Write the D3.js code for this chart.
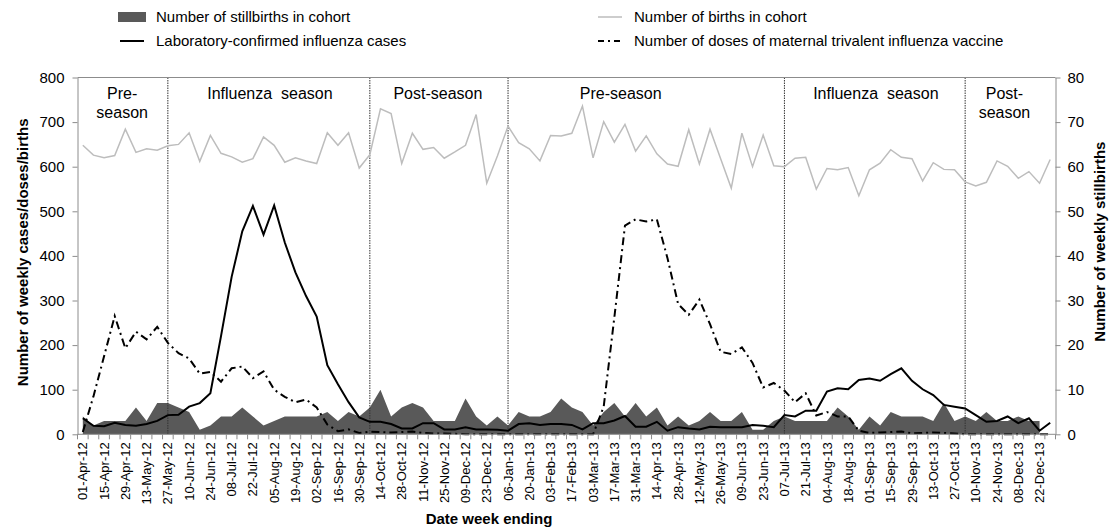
<!DOCTYPE html>
<html>
<head>
<meta charset="utf-8">
<script src="https://cdn.jsdelivr.net/npm/d3@7"></script>
<style>
  body { margin: 0; background: #fff; }
  svg { font-family: "Liberation Sans", Arial, sans-serif; }
  .axis path, .axis line { stroke: #8c8c8c; }
  .axis text { fill: #000; }
</style>
</head>
<body>
<div id="chart"></div>
<script>
// Week-ending dates (categories).
var weeks = [
  '01-Apr-12','08-Apr-12','15-Apr-12','22-Apr-12','29-Apr-12','06-May-12','13-May-12','20-May-12','27-May-12',
  '03-Jun-12','10-Jun-12','17-Jun-12','24-Jun-12','01-Jul-12','08-Jul-12','15-Jul-12','22-Jul-12','29-Jul-12',
  '05-Aug-12','12-Aug-12','19-Aug-12','26-Aug-12','02-Sep-12','09-Sep-12','16-Sep-12','23-Sep-12','30-Sep-12',
  '07-Oct-12','14-Oct-12','21-Oct-12','28-Oct-12','04-Nov-12','11-Nov-12','18-Nov-12','25-Nov-12',
  '02-Dec-12','09-Dec-12','16-Dec-12','23-Dec-12','30-Dec-12',
  '06-Jan-13','13-Jan-13','20-Jan-13','27-Jan-13','03-Feb-13','10-Feb-13','17-Feb-13','24-Feb-13',
  '03-Mar-13','10-Mar-13','17-Mar-13','24-Mar-13','31-Mar-13','07-Apr-13','14-Apr-13','21-Apr-13','28-Apr-13',
  '05-May-13','12-May-13','19-May-13','26-May-13','02-Jun-13','09-Jun-13','16-Jun-13','23-Jun-13','30-Jun-13',
  '07-Jul-13','14-Jul-13','21-Jul-13','28-Jul-13','04-Aug-13','11-Aug-13','18-Aug-13','25-Aug-13',
  '01-Sep-13','08-Sep-13','15-Sep-13','22-Sep-13','29-Sep-13','06-Oct-13','13-Oct-13','20-Oct-13','27-Oct-13',
  '03-Nov-13','10-Nov-13','17-Nov-13','24-Nov-13','01-Dec-13','08-Dec-13','15-Dec-13','22-Dec-13','29-Dec-13'
];

// Number of births in cohort (left axis).
var births = [
  648, 626, 620, 625, 684, 632, 640, 637, 647, 650, 676, 612, 670, 630, 622, 610, 618, 667, 648, 610,
  620, 613, 607, 676, 648, 676, 597, 627, 730, 719, 607, 675, 639, 643, 619, 633, 648, 717, 563, 624,
  691, 654, 640, 613, 670, 669, 675, 736, 620, 701, 655, 695, 635, 669, 629, 606, 601, 683, 606, 684,
  618, 552, 675, 600, 671, 602, 600, 619, 621, 550, 596, 593, 598, 535, 593, 608, 638, 621, 618, 568,
  609, 594, 593, 566, 557, 565, 613, 601, 574, 589, 563, 616
];

// Laboratory-confirmed influenza cases (left axis).
var fluCases = [
  36, 19, 18, 26, 21, 19, 23, 30, 43, 44, 62, 70, 92, 220, 353, 455, 512, 448, 513, 430,
  363, 310, 264, 155, 112, 72, 38, 28, 28, 23, 13, 13, 25, 25, 11, 11, 16, 11, 11, 10,
  8, 23, 25, 21, 23, 23, 21, 11, 25, 25, 31, 41, 17, 17, 28, 8, 16, 13, 11, 17,
  16, 16, 16, 21, 19, 16, 43, 40, 53, 53, 96, 103, 101, 122, 125, 120, 135, 148, 120, 101,
  88, 66, 62, 58, 43, 28, 30, 40, 25, 36, 8, 26
];

// Doses of maternal trivalent influenza vaccine (left axis).
var vaccineDoses = [
  5, 85, 175, 265, 193, 230, 213, 241, 205, 182, 170, 136, 140, 118, 148, 152, 126, 141, 100, 84,
  72, 78, 60, 22, 7, 11, 3, 6, 5, 4, 5, 6, 3, 2, 2, 1, 0, 0, 0, 0,
  0, 0, 0, 0, 0, 0, 0, 0, 0, 62, 262, 468, 482, 477, 482, 395, 292, 268, 302, 247,
  185, 180, 195, 160, 105, 115, 98, 72, 92, 42, 50, 40, 40, 8, 3, 4, 5, 6, 2, 3,
  4, 3, 2, 0, 0, 0, 0, 0, 0, 0, 0, 0
];

// Number of stillbirths in cohort (right axis); last week not reported.
var stillbirths = [
  4, 2, 3, 3, 3, 6, 3, 7, 7, 6, 5, 1, 2, 4, 4, 6, 4, 2, 3, 4,
  4, 4, 4, 5, 3, 5, 4, 6, 10, 4, 6, 7, 6, 3, 3, 3, 8, 4, 2, 4,
  2, 5, 4, 4, 5, 8, 6, 5, 2, 5, 7, 4, 7, 4, 6, 2, 4, 2, 3, 5,
  3, 3, 5, 1, 1, 3, 4, 3, 3, 3, 3, 6, 4, 1, 4, 2, 5, 4, 4, 4,
  3, 7, 3, 4, 3, 5, 3, 3, 4, 3, 3, null
];

// Season boundaries (week of the dotted line) and season labels (centre in weeks).
var seasonBreaks = ['27-May-12', '07-Oct-12', '06-Jan-13', '07-Jul-13', '03-Nov-13'];
var seasonLabels = [
  { lines: ['Pre-', 'season'], at: 3.7 },
  { lines: ['Influenza  season'], at: 17.6 },
  { lines: ['Post-season'], at: 33.4 },
  { lines: ['Pre-season'], at: 50.6 },
  { lines: ['Influenza  season'], at: 74.6 },
  { lines: ['Post-', 'season'], at: 86.7 }
];

var leftTicks = [0, 100, 200, 300, 400, 500, 600, 700, 800];
var rightTicks = [0, 10, 20, 30, 40, 50, 60, 70, 80];

var width = 1113, height = 532;
var margin = { top: 77.5, right: 57.5, bottom: 97.7, left: 77.5 };
var innerW = width - margin.left - margin.right;
var innerH = height - margin.top - margin.bottom;

var svg = d3.select('#chart').append('svg')
  .attr('width', width)
  .attr('height', height);

var g = svg.append('g')
  .attr('transform', 'translate(' + margin.left + ',' + margin.top + ')');

var x = d3.scaleBand().domain(weeks).range([0, innerW]);
var bw = x.bandwidth();
var cx = function(w) { return x(w) + bw / 2; };
var xi = function(i) { return bw * (i + 0.5); };

var y = d3.scaleLinear().domain([0, 800]).range([innerH, 0]);
var yR = d3.scaleLinear().domain([0, 80]).range([innerH, 0]);

// Stillbirths area.
var area = d3.area()
  .defined(function(d) { return d != null; })
  .x(function(d, i) { return cx(weeks[i]); })
  .y0(innerH)
  .y1(function(d) { return yR(d); });

g.append('path')
  .datum(stillbirths)
  .attr('fill', '#595959')
  .attr('d', area);

// Season dividers.
g.selectAll('.divider')
  .data(seasonBreaks)
  .enter()
  .append('line')
  .attr('class', 'divider')
  .attr('x1', cx).attr('x2', cx)
  .attr('y1', 0).attr('y2', innerH)
  .attr('stroke', '#333')
  .attr('stroke-width', 1)
  .attr('stroke-dasharray', '1.5,1');

var line = function(scale) {
  return d3.line()
    .defined(function(d) { return d != null; })
    .x(function(d, i) { return cx(weeks[i]); })
    .y(function(d) { return scale(d); });
};

g.append('path')
  .datum(births)
  .attr('fill', 'none')
  .attr('stroke', '#bdbdbd')
  .attr('stroke-width', 1.5)
  .attr('d', line(y));

g.append('path')
  .datum(vaccineDoses)
  .attr('fill', 'none')
  .attr('stroke', '#000')
  .attr('stroke-width', 2)
  .attr('stroke-dasharray', '8,4,2,4')
  .attr('d', line(y));

g.append('path')
  .datum(fluCases)
  .attr('fill', 'none')
  .attr('stroke', '#000')
  .attr('stroke-width', 2)
  .attr('d', line(y));

// Season labels.
seasonLabels.forEach(function(s) {
  var t = g.append('text')
    .attr('x', xi(s.at))
    .attr('y', 21)
    .attr('text-anchor', 'middle')
    .style('font-size', '16px')
    .style('white-space', 'pre');
  s.lines.forEach(function(l, k) {
    t.append('tspan')
      .attr('x', xi(s.at))
      .attr('dy', k === 0 ? 0 : 19)
      .text(l);
  });
});

// Top border.
g.append('line')
  .attr('x1', 0).attr('x2', innerW)
  .attr('y1', 0).attr('y2', 0)
  .attr('stroke', '#8c8c8c');

// Left axis.
var leftAxis = g.append('g')
  .attr('class', 'axis')
  .call(d3.axisLeft(y).tickValues(leftTicks).tickSize(5).tickPadding(8).tickSizeOuter(0));
leftAxis.selectAll('text').style('font-size', '15px');

// Right axis.
var rightAxis = g.append('g')
  .attr('class', 'axis')
  .attr('transform', 'translate(' + innerW + ',0)')
  .call(d3.axisRight(yR).tickValues(rightTicks).tickSize(5).tickPadding(7).tickSizeOuter(0));
rightAxis.selectAll('text').style('font-size', '15px');

// Bottom axis: a tick at every week boundary, label every second week.
var bottom = g.append('g')
  .attr('class', 'axis')
  .attr('transform', 'translate(0,' + innerH + ')');

bottom.append('line')
  .attr('x1', 0).attr('x2', innerW)
  .attr('stroke', '#8c8c8c');

bottom.selectAll('.wtick')
  .data(weeks.concat(['end']))
  .enter()
  .append('line')
  .attr('class', 'wtick')
  .attr('x1', function(d, i) { return i * bw; })
  .attr('x2', function(d, i) { return i * bw; })
  .attr('y1', 0).attr('y2', 5)
  .attr('stroke', '#8c8c8c');

bottom.selectAll('.wlabel')
  .data(weeks.filter(function(d, i) { return i % 2 === 0; }))
  .enter()
  .append('text')
  .attr('class', 'wlabel')
  .attr('transform', function(d) { return 'translate(' + cx(d) + ',8) rotate(-90)'; })
  .attr('dy', '0.35em')
  .attr('text-anchor', 'end')
  .style('font-size', '13px')
  .text(function(d) { return d; });

// Axis titles.
svg.append('text')
  .attr('transform', 'translate(23,' + (margin.top + innerH * 0.49) + ') rotate(-90)')
  .attr('text-anchor', 'middle')
  .attr('dy', '0.35em')
  .style('font-size', '15px')
  .style('font-weight', 'bold')
  .text('Number of weekly cases/doses/births');

svg.append('text')
  .attr('transform', 'translate(1100,' + (margin.top + innerH * 0.46) + ') rotate(-90)')
  .attr('text-anchor', 'middle')
  .attr('dy', '0.35em')
  .style('font-size', '15px')
  .style('font-weight', 'bold')
  .text('Number of weekly stillbirths');

svg.append('text')
  .attr('x', 489)
  .attr('y', 524)
  .attr('text-anchor', 'middle')
  .style('font-size', '15px')
  .style('font-weight', 'bold')
  .text('Date week ending');

// Legend.
var legendItems = [
  { label: 'Number of stillbirths in cohort', type: 'area', col: 0, row: 0 },
  { label: 'Number of births in cohort', type: 'births', col: 1, row: 0 },
  { label: 'Laboratory-confirmed influenza cases', type: 'flu', col: 0, row: 1 },
  { label: 'Number of doses of maternal trivalent influenza vaccine', type: 'vaccine', col: 1, row: 1 }
];
var legendX = [118, 596], legendY = [17, 41];

var legend = svg.append('g');
legendItems.forEach(function(d) {
  var lx = legendX[d.col], ly = legendY[d.row];
  if (d.type === 'area') {
    legend.append('rect')
      .attr('x', lx).attr('y', ly - 5)
      .attr('width', 28).attr('height', 10)
      .attr('fill', '#595959');
  } else {
    legend.append('line')
      .attr('x1', lx + 2).attr('x2', lx + 26)
      .attr('y1', ly).attr('y2', ly)
      .attr('stroke', d.type === 'births' ? '#bdbdbd' : '#000')
      .attr('stroke-width', d.type === 'births' ? 1.5 : 2)
      .attr('stroke-dasharray', d.type === 'vaccine' ? '6,4,2,4' : null);
  }
  legend.append('text')
    .attr('x', lx + 38)
    .attr('y', ly)
    .attr('dy', '0.35em')
    .style('font-size', '15px')
    .text(d.label);
});
</script>
</body>
</html>
